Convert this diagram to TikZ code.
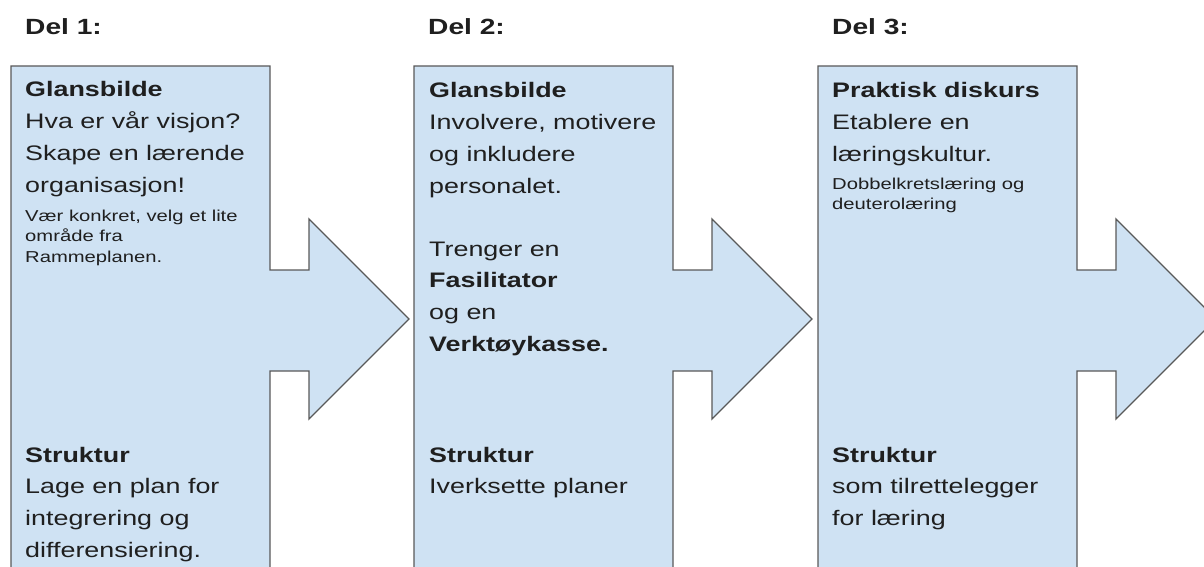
\documentclass[tikz,border=0pt]{standalone}
\usepackage{fontspec}
\setmainfont{Liberation Sans}[FakeStretch=1.28]
\definecolor{boxfill}{HTML}{CFE2F3}
\definecolor{edge}{HTML}{595959}
\definecolor{ink}{HTML}{1F1F1F}
\newcommand\mainsize{\fontsize{21}{31.7}\selectfont}
\newcommand\smallsize{\fontsize{15.8}{20.5}\selectfont}
\newcommand\delsize{\fontsize{22}{26}\selectfont}
% a block of lines whose reference point is the first baseline
\newcommand\textblock[2]{\parbox[t]{270pt}{#1\raggedright #2}}
\begin{document}
\begin{tikzpicture}[x=1pt,y=-1pt,
  stage/.style={fill=boxfill,draw=edge,line width=1.3pt,line join=miter},
  txt/.style={anchor=base west,inner sep=0pt,text=ink}]
\useasboundingbox (0,0) rectangle (1204,567);
\clip (0,0) rectangle (1204,567);

% three column boxes, each carrying a block arrow on its right side
\foreach \x in {11,414,818} {
  \draw[stage] (\x,600) -- (\x,66) -- ++(259,0) -- ++(0,204) -- ++(39,0)
    -- ++(0,-51) -- ++(100,100) -- ++(-100,100) -- ++(0,-48) -- ++(-39,0)
    -- (\x+259,600);
}

% headings
\node[txt] (del1) at (25,35)  {\delsize\bfseries Del 1:};
\node[txt] (del2) at (428,35) {\delsize\bfseries Del 2:};
\node[txt] (del3) at (832,35) {\delsize\bfseries Del 3:};

% part 1
\node[txt] (p1a) at (25,97) {\textblock{\mainsize}{\textbf{Glansbilde}\\Hva er vår visjon?\\Skape en lærende\\organisasjon!}};
\node[txt] (p1b) at (25,221) {\textblock{\smallsize}{Vær konkret, velg et lite\\område fra\\Rammeplanen.}};
\node[txt] (p1c) at (25,462) {\textblock{\mainsize}{\textbf{Struktur}\\Lage en plan for\\integrering og\\differensiering.}};

% part 2
\node[txt] (p2a) at (429,98) {\textblock{\mainsize}{\textbf{Glansbilde}\\Involvere, motivere\\og inkludere\\personalet.}};
\node[txt] (p2b) at (429,256) {\textblock{\mainsize}{Trenger en\\\textbf{Fasilitator}\\og en\\\textbf{Verktøykasse.}}};
\node[txt] (p2c) at (429,462) {\textblock{\mainsize}{\textbf{Struktur}\\Iverksette planer}};

% part 3
\node[txt] (p3a) at (832,98) {\textblock{\mainsize}{\textbf{Praktisk diskurs}\\Etablere en\\læringskultur.}};
\node[txt] (p3b) at (832,189) {\textblock{\smallsize}{Dobbelkretslæring og\\deuterolæring}};
\node[txt] (p3c) at (832,462) {\textblock{\mainsize}{\textbf{Struktur}\\som tilrettelegger\\for læring}};
\end{tikzpicture}
\end{document}
